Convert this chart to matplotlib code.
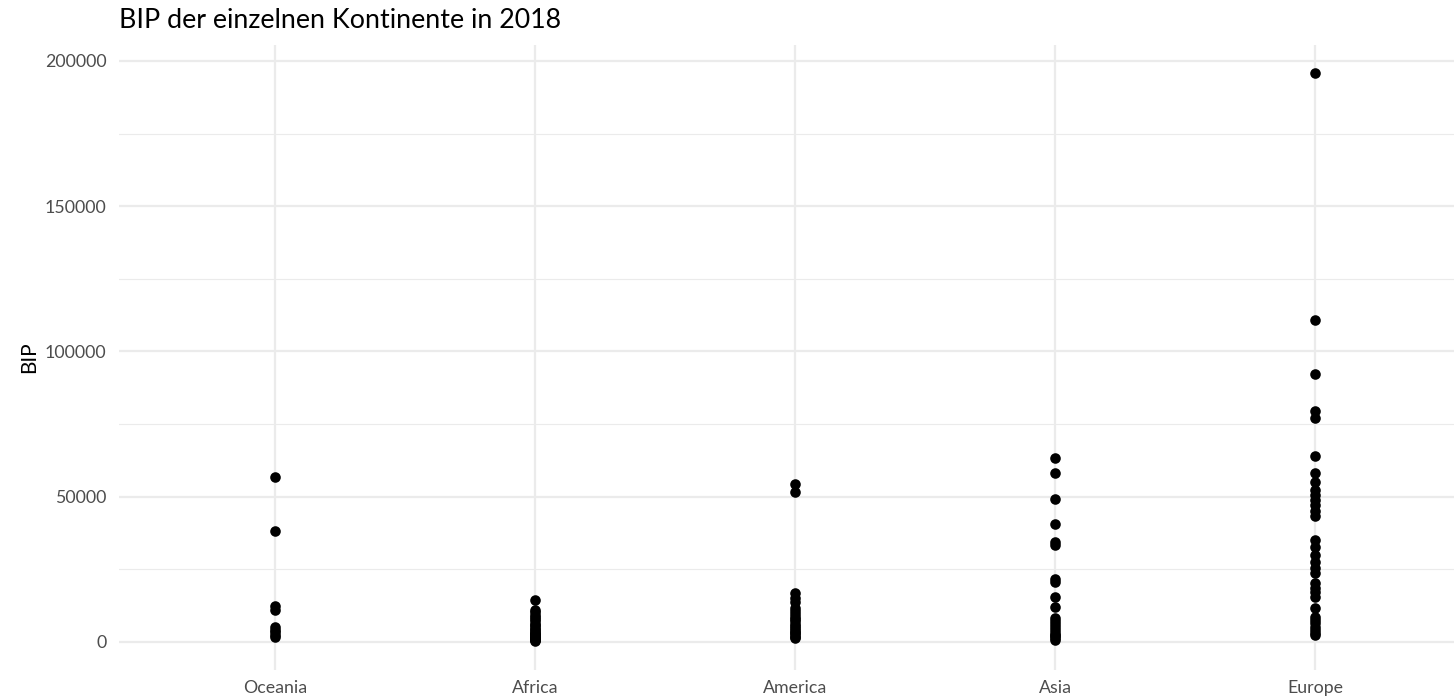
import matplotlib
matplotlib.use('Agg')
from matplotlib import pyplot as plt
from matplotlib.ticker import MultipleLocator

plt.rcParams['font.family'] = ['Lato', 'DejaVu Sans']

continents = ['Oceania', 'Africa', 'America', 'Asia', 'Europe']

# BIP-Werte je Land
oceania = [56900, 38000, 12300, 10800, 5000, 4200, 3300, 2500, 1600]
africa = [14500, 11000, 10200, 9400, 8600, 7800, 7000, 6300, 5700, 5100, 4500,
          4000, 3500, 3000, 2600, 2200, 1900, 1600, 1300, 1000, 800, 600, 400]
america = [54500, 51500, 16700, 15200, 13800, 11500, 10500, 9600, 8700, 7900,
           7100, 6300, 5600, 4900, 4200, 3500, 2900, 2300, 1700, 1200]
asia = [63200, 58100, 49100, 40600, 34500, 33400, 21500, 20600, 15600, 12000,
        8100, 7000, 6000, 5000, 4000, 3200, 2500, 1900, 1300, 800]
europe = [195900, 110800, 92200, 79500, 77100, 64000, 58100, 55200, 52300,
          50600, 48900, 47200, 44900, 43400, 35100, 32800, 29900, 27600,
          25500, 23700, 20300, 18500, 17300, 15600, 11600, 8700, 7500, 6500,
          5200, 4100, 3200, 2400]

values = [oceania, africa, america, asia, europe]

fig = plt.figure(figsize=(14.54, 6.99), dpi=100)
ax = fig.add_axes([119 / 1454, 1 - 670 / 699, 1352 / 1454, 625 / 699])

for i, vals in enumerate(values):
    ax.scatter([i + 1] * len(vals), vals, s=58, color='black', zorder=3,
               linewidths=0)

ax.set_xlim(0.4, 5.6)
ax.set_ylim(-9700, 205500)
ax.set_xticks(range(1, len(continents) + 1))
ax.set_xticklabels(continents)
ax.yaxis.set_major_locator(MultipleLocator(50000))
ax.yaxis.set_minor_locator(MultipleLocator(25000))

ax.grid(which='major', color='#EBEBEB', linewidth=1.6)
ax.grid(which='minor', axis='y', color='#EBEBEB', linewidth=0.8)
ax.set_axisbelow(True)
for s in ax.spines.values():
    s.set_visible(False)
ax.tick_params(which='both', length=0, labelsize=12.8, labelcolor='#4D4D4D')
ax.tick_params(axis='y', pad=9)
ax.tick_params(axis='x', pad=7)

ax.set_ylabel('BIP', fontsize=15, labelpad=4)
fig.text(119 / 1454, 1 - 21 / 699, 'BIP der einzelnen Kontinente in 2018',
         fontsize=19.3, va='center', ha='left')

fig.savefig('out.png', dpi=100)
